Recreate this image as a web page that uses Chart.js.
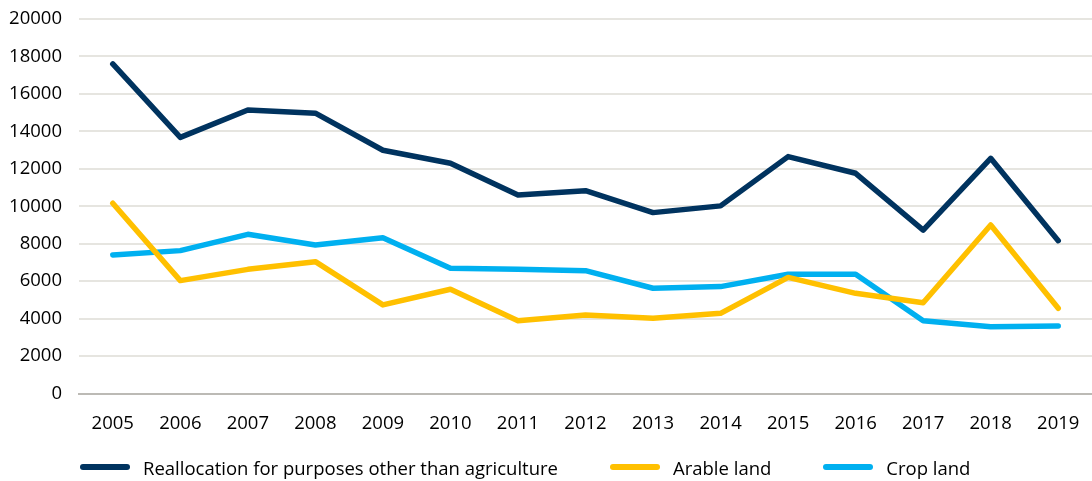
<!DOCTYPE html>
<html>
<head>
<meta charset="utf-8">
<script src="https://cdn.jsdelivr.net/npm/chart.js@4"></script>
<style>
  html, body { margin: 0; padding: 0; background: #fff; overflow: hidden; }
  #wrap { position: relative; width: 1092px; height: 481px; }
  #legend {
    position: absolute; left: 80px; top: 455px; height: 24px;
    display: flex; align-items: center;
    font-family: 'Open Sans', 'Noto Sans', sans-serif; font-size: 18.5px; color: #000;
  }
  #legend .item { display: flex; align-items: center; margin-right: 52px; white-space: nowrap; }
  #legend .swatch { display: inline-block; width: 50px; height: 6px; border-radius: 3px; margin-right: 13px; }
</style>
</head>
<body>
<div id="wrap">
  <canvas id="landChart"></canvas>
  <div id="legend"></div>
</div>
<script>
const years = ['2005', '2006', '2007', '2008', '2009', '2010', '2011', '2012', '2013', '2014', '2015', '2016', '2017', '2018', '2019'];
const reallocation = [17600, 13680, 15140, 14970, 12990, 12300, 10600, 10830, 9660, 10020, 12650, 11760, 8730, 12560, 8160];
const arableLand = [10160, 6030, 6630, 7040, 4730, 5570, 3890, 4190, 4020, 4280, 6200, 5350, 4850, 9000, 4550];
const cropLand = [7400, 7630, 8500, 7930, 8320, 6690, 6630, 6560, 5620, 5710, 6370, 6370, 3890, 3570, 3600];
const yTicks = [0, 2000, 4000, 6000, 8000, 10000, 12000, 14000, 16000, 18000, 20000];

const ctx = document.getElementById('landChart');
const fontFamily = "'Open Sans', 'Noto Sans', sans-serif";

const makeSet = (label, data, color) => ({
    label: label,
    data: data,
    borderColor: color,
    backgroundColor: color,
    borderWidth: 5.5,
    borderCapStyle: 'round',
    borderJoinStyle: 'round',
    pointRadius: 0,
    tension: 0,
    fill: false
});

const chart = new Chart(ctx, {
    type: 'line',
    data: {
        labels: years,
        datasets: [
            makeSet('Reallocation for purposes other than agriculture', reallocation, '#00335f'),
            makeSet('Arable land', arableLand, '#ffc000'),
            makeSet('Crop land', cropLand, '#00b0f0')
        ]
    },
    options: {
        responsive: true,
        maintainAspectRatio: false,
        animation: false,
        layout: { padding: { left: 8, right: -5, top: 19, bottom: 0 } },
        plugins: {
            tooltip: { enabled: false },
            legend: { display: false } // legend is built in HTML below
        },
        scales: {
            x: {
                offset: true,
                grid: { display: false },
                border: { color: '#bcbab5', width: 2 },
                ticks: { color: '#000', padding: 11, font: { family: fontFamily, size: 18.5 } },
                afterFit: (s) => { s.height = 87.5; s.paddingLeft = 0; s.paddingRight = 0; }
            },
            y: {
                min: 0,
                max: 20000,
                afterBuildTicks: (axis) => { axis.ticks = yTicks.map(v => ({ value: v })); },
                afterFit: (s) => { s.width = 71; s.paddingTop = 0; s.paddingBottom = 0; },
                grid: { color: '#e6e5e0', lineWidth: 2, drawTicks: false },
                border: { display: false },
                ticks: {
                    color: '#000',
                    padding: 17,
                    font: { family: fontFamily, size: 18.5 },
                    callback: (v) => String(v)
                }
            }
        }
    }
});

// legend
const legendEl = document.getElementById('legend');
chart.data.datasets.forEach(ds => {
    const item = document.createElement('span');
    item.className = 'item';
    const sw = document.createElement('span');
    sw.className = 'swatch';
    sw.style.background = ds.borderColor;
    item.appendChild(sw);
    item.appendChild(document.createTextNode(ds.label));
    legendEl.appendChild(item);
});
</script>
</body>
</html>
